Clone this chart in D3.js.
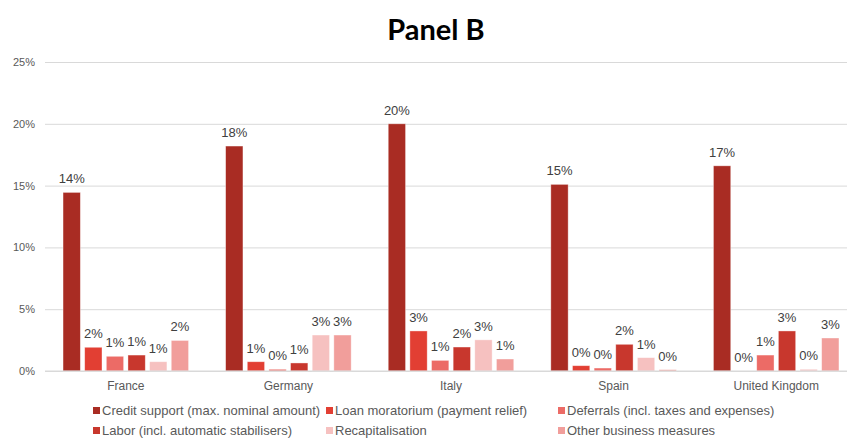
<!DOCTYPE html>
<html>
<head>
<meta charset="utf-8">
<script src="https://cdn.jsdelivr.net/npm/d3@7"></script>
<style>
  html, body { margin: 0; padding: 0; background: #fff; }
  svg { display: block; }
</style>
</head>
<body>
<svg id="chart" width="847" height="439"></svg>
<script>
// Countries along the x axis
const countries = ["France", "Germany", "Italy", "Spain", "United Kingdom"];

// Measure types (one bar per country each)
const measures = [
  "Credit support (max. nominal amount)",
  "Loan moratorium (payment relief)",
  "Deferrals (incl. taxes and expenses)",
  "Labor (incl. automatic stabilisers)",
  "Recapitalisation",
  "Other business measures"
];

// Share of GDP, in percent, per measure, ordered as countries
const creditSupport = [14.45, 18.2, 20.0, 15.1, 16.6];
const loanMoratorium = [1.92, 0.75, 3.24, 0.43, 0.0];
const deferrals = [1.19, 0.14, 0.86, 0.24, 1.29];
const labor = [1.29, 0.65, 1.94, 2.16, 3.24];
const recapitalisation = [0.75, 2.91, 2.52, 1.08, 0.14];
const otherBusiness = [2.47, 2.91, 0.97, 0.11, 2.67];

const yTicks = [0, 5, 10, 15, 20, 25];
const colors = ["#A92C23", "#E23F33", "#EC6B66", "#C8372D", "#F6C1C0", "#F19E9B"];

const seriesValues = [creditSupport, loanMoratorium, deferrals, labor, recapitalisation, otherBusiness];

const FONT = "'Liberation Sans', Arial, sans-serif";
const svg = d3.select("#chart");

const x0 = d3.scaleBand()
  .domain(countries)
  .range([44.5, 857.5])
  .paddingInner(0.228)
  .paddingOuter(0.114);

const x1 = d3.scaleBand()
  .domain(measures)
  .range([0, x0.bandwidth()])
  .paddingInner(0.2)
  .paddingOuter(0);

const y = d3.scaleLinear().domain([0, 25]).range([371, 62]);

// Horizontal gridlines and y tick labels
const yAxis = d3.axisLeft(y)
  .tickValues(yTicks)
  .tickSize(-(847 - 45))
  .tickPadding(10)
  .tickFormat(d => d + "%");

const gy = svg.append("g")
  .attr("transform", "translate(45,0)")
  .call(yAxis);
gy.select(".domain").remove();
gy.selectAll(".tick line").attr("stroke", "#D9D9D9").attr("stroke-width", 1);
gy.selectAll(".tick text")
  .attr("fill", "#595959")
  .attr("font-family", FONT)
  .attr("font-size", 11);

// Category labels along the baseline
const xAxis = d3.axisBottom(x0).tickSize(0).tickPadding(10);
const gx = svg.append("g")
  .attr("transform", "translate(0,371)")
  .call(xAxis);
gx.select(".domain").remove();
gx.selectAll(".tick text")
  .attr("fill", "#595959")
  .attr("font-family", FONT)
  .attr("font-size", 12);

// Flatten into records for the bars
const records = [];
countries.forEach((c, ci) => {
  measures.forEach((m, mi) => {
    records.push({ country: c, measure: m, idx: mi, value: seriesValues[mi][ci] });
  });
});

const bars = svg.append("g");
bars.selectAll("rect")
  .data(records)
  .join("rect")
  .attr("x", d => x0(d.country) + x1(d.measure))
  .attr("y", d => y(d.value))
  .attr("width", x1.bandwidth())
  .attr("height", d => y(0) - y(d.value))
  .attr("fill", d => colors[d.idx])
  .attr("stroke", "#fff")
  .attr("stroke-opacity", 0.5)
  .attr("stroke-width", 0.75);

// Value labels above each bar
svg.append("g").selectAll("text")
  .data(records)
  .join("text")
  .attr("x", d => x0(d.country) + x1(d.measure) + x1.bandwidth() / 2)
  .attr("y", d => y(d.value) - 9)
  .attr("text-anchor", "middle")
  .attr("fill", "#404040")
  .attr("font-family", FONT)
  .attr("font-size", 13)
  .text(d => d3.format(".0f")(d.value) + "%");

// Baseline
svg.append("line")
  .attr("x1", 45).attr("x2", 847)
  .attr("y1", y(0)).attr("y2", y(0))
  .attr("stroke", "#D9D9D9");

// Title
svg.append("text")
  .attr("x", 436)
  .attr("y", 40)
  .attr("text-anchor", "middle")
  .attr("font-family", "Lato, 'Open Sans', sans-serif")
  .attr("font-weight", "bold")
  .attr("font-size", 29)
  .attr("fill", "#000")
  .text("Panel B");

// Legend: three columns, two rows
const legendCols = [93, 326, 558];
const legendRows = [415, 435];
const legend = svg.append("g");
measures.forEach((m, i) => {
  const lx = legendCols[i % 3];
  const ly = legendRows[Math.floor(i / 3)];
  legend.append("rect")
    .attr("x", lx).attr("y", ly - 8)
    .attr("width", 7).attr("height", 7)
    .attr("fill", colors[i]);
  legend.append("text")
    .attr("x", lx + 9).attr("y", ly)
    .attr("fill", "#595959")
    .attr("font-family", FONT)
    .attr("font-size", 13)
    .text(m);
});
</script>
</body>
</html>
